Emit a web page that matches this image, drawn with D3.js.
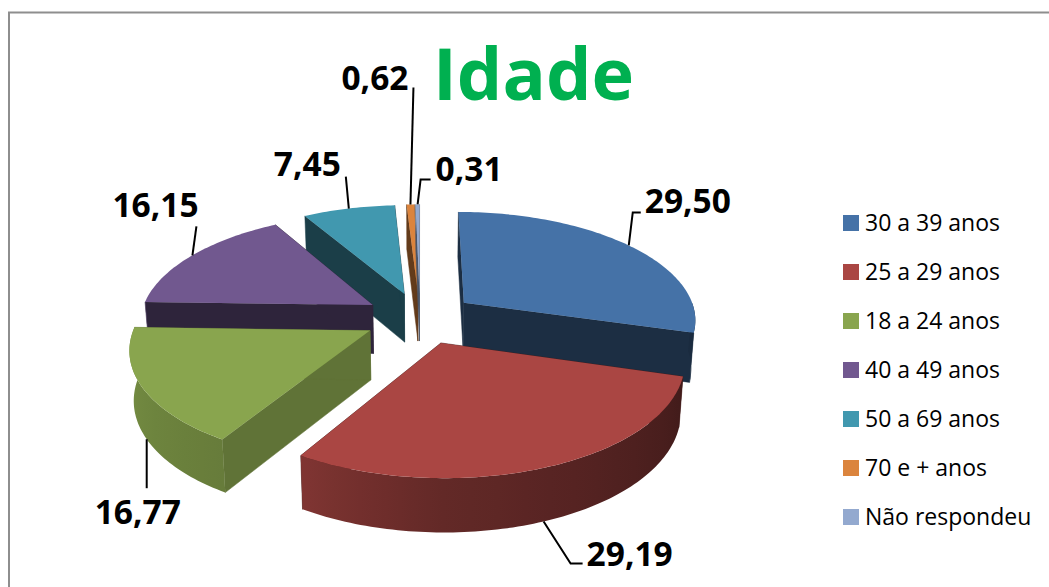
<!DOCTYPE html>
<html>
<head>
<meta charset="utf-8">
<script src="https://cdn.jsdelivr.net/npm/d3@7"></script>
<style>
    html, body { margin: 0; padding: 0; background: #fff; }
    svg { display: block; }
    text { font-family: "Open Sans", Lato, sans-serif; fill: #000; }
</style>
</head>
<body>
<svg id="chart" width="1049" height="587"></svg>
<script>
const categories = ['30 a 39 anos', '25 a 29 anos', '18 a 24 anos', '40 a 49 anos', '50 a 69 anos', '70 e + anos', 'Não respondeu'];
const percentages = [29.50, 29.19, 16.77, 16.15, 7.45, 0.62, 0.31];
const percentLabels = ['29,50', '29,19', '16,77', '16,15', '7,45', '0,62', '0,31'];
const sliceColors = ['#4572a7', '#aa4643', '#89a54e', '#71588f', '#4198af', '#db843d', '#93a9cf'];
// how dark the straight cut walls are, per slice
const wallShade = [0.4, 0.4, 0.7, 0.41, 0.41, 0.45, 0.5];

// label anchor relative to the rim point: elbow points, then text start
const labelLayout = [
    {bend: [[4, -33], [12, -33]], text: [16, -32], top: true},
    {bend: [[27, 42], [39, 42]], text: [43, 45], top: false},
    {bend: [[0, 49]], text: [-52, 85], top: false},
    {bend: [[4, -29]], text: [-80, -38], top: true},
    {bend: [[-3, -32]], text: [-75, -33], top: true},
    {bend: [[3, -117]], text: [-69, -114], top: true},
    {bend: [[3, -25], [13, -25]], text: [18, -23], top: true}
];

const explode = 0.24;
const cx = 420, cy = 318;
const scaleX = 233, scaleY = 107.9;
const perspective = 0.1435;
const depth = 49;
const toRad = Math.PI / 180;

const svg = d3.select('#chart');
const defs = svg.append('defs');

// chart frame, only left and top edges are in the crop
svg.append('path')
    .attr('d', 'M9,587V12.5H1049')
    .attr('fill', 'none')
    .attr('stroke', '#8e8e8e')
    .attr('stroke-width', 2);

const pie = d3.pie().sort(null).value(d => d).startAngle(0).endAngle(2 * Math.PI);
const arcs = pie(percentages).map((d, i) => {
    let mid = (d.startAngle + d.endAngle) / 2;
    return {
        index: i,
        start: d.startAngle,
        end: d.endAngle,
        mid: mid,
        ox: Math.sin(mid) * explode,
        oy: -Math.cos(mid) * explode
    };
});

// flat disc coordinates to screen, y grows toward the viewer
function project (x, y, low) {
    let w = 1 - perspective * y;
    let px = scaleX * x / w;
    let py = scaleY * y / w;
    if (low) {
        px *= 0.985;
        py += depth / (1 - 0.08 * y);
    }
    return [cx + px, cy + py];
}

function rimPoint (d, angle, low) {
    return project(d.ox + Math.sin(angle), d.oy - Math.cos(angle), low);
}

function sweep (from, to) {
    let steps = Math.max(2, Math.ceil((to - from) / 0.02));
    return d3.range(steps + 1).map(k => from + (to - from) * k / steps);
}

function shaded (color, f) {
    let c = d3.rgb(color);
    return d3.rgb(c.r * f, c.g * f, c.b * f).formatHex();
}

const rimShade = d3.scaleLinear()
    .domain([90, 106, 180, 211, 272].map(a => a * toRad))
    .range([0.38, 0.38, 0.58, 0.75, 0.88]);

const line = d3.line();

// back slices first so the front ones paint over them
const drawOrder = [4, 5, 6, 0, 3, 2, 1];
const sliceGroups = svg.append('g').attr('id', 'pie').selectAll('g')
    .data(drawOrder.map(i => arcs[i]))
    .join('g');

sliceGroups.each(function (d) {
    let g = d3.select(this);
    let color = sliceColors[d.index];
    let apexTop = project(d.ox, d.oy, false);
    let apexLow = project(d.ox, d.oy, true);
    let wall = shaded(color, wallShade[d.index]);

    // straight walls
    [d.start, d.end].forEach(a => {
        let pts = [apexTop, rimPoint(d, a, false), rimPoint(d, a, true), apexLow];
        g.append('path')
            .attr('d', line(pts) + 'Z')
            .attr('fill', wall)
            .attr('stroke', wall)
            .attr('stroke-width', 0.5);
    });

    // curved outer wall, only the part that faces the viewer
    let from = Math.max(d.start, 90 * toRad);
    let to = Math.min(d.end, 272 * toRad);
    if (to > from) {
        let angles = sweep(from, to);
        let xs = angles.map(a => rimPoint(d, a, false)[0]);
        let x1 = xs[0], x2 = xs[xs.length - 1];
        let grad = defs.append('linearGradient')
            .attr('id', 'rim' + d.index)
            .attr('gradientUnits', 'userSpaceOnUse')
            .attr('x1', x1).attr('y1', 0)
            .attr('x2', x2).attr('y2', 0);
        angles.filter((a, k) => k % 5 === 0 || k === angles.length - 1).forEach(a => {
            grad.append('stop')
                .attr('offset', (rimPoint(d, a, false)[0] - x1) / (x2 - x1))
                .attr('stop-color', shaded(color, rimShade(a)));
        });
        let pts = angles.map(a => rimPoint(d, a, false))
            .concat(angles.slice().reverse().map(a => rimPoint(d, a, true)));
        g.append('path')
            .attr('d', line(pts) + 'Z')
            .attr('fill', 'url(#rim' + d.index + ')');
    }

    // top face
    let topPts = [apexTop].concat(sweep(d.start, d.end).map(a => rimPoint(d, a, false)));
    g.append('path')
        .attr('d', line(topPts) + 'Z')
        .attr('fill', color);
});

// leader lines and value labels
const labels = svg.append('g').attr('id', 'labels').selectAll('g').data(arcs).join('g');

labels.each(function (d) {
    let g = d3.select(this);
    let layout = labelLayout[d.index];
    let anchor = rimPoint(d, d.mid, !layout.top);
    let pts = [anchor].concat(layout.bend.map(p => [anchor[0] + p[0], anchor[1] + p[1]]));
    g.append('path')
        .attr('d', line(pts))
        .attr('fill', 'none')
        .attr('stroke', '#000')
        .attr('stroke-width', 2);
    g.append('text')
        .attr('x', anchor[0] + layout.text[0])
        .attr('y', anchor[1] + layout.text[1])
        .attr('font-size', 33.5)
        .attr('font-weight', 700)
        .text(percentLabels[d.index]);
});

svg.append('text')
    .attr('x', 433)
    .attr('y', 100)
    .attr('font-size', 72)
    .attr('font-weight', 700)
    .style('fill', '#00b050')
    .text('Idade');

// legend
const legendY = d3.scalePoint().domain(categories).range([223, 517]);
const legend = svg.append('g').attr('id', 'legend').selectAll('g').data(categories).join('g')
    .attr('transform', d => 'translate(843, ' + legendY(d) + ')');

legend.append('rect')
    .attr('y', -8)
    .attr('width', 16)
    .attr('height', 16)
    .attr('fill', (d, i) => sliceColors[i]);

legend.append('text')
    .attr('x', 22)
    .attr('y', 8)
    .attr('font-size', 23)
    .text(d => d);
</script>
</body>
</html>
